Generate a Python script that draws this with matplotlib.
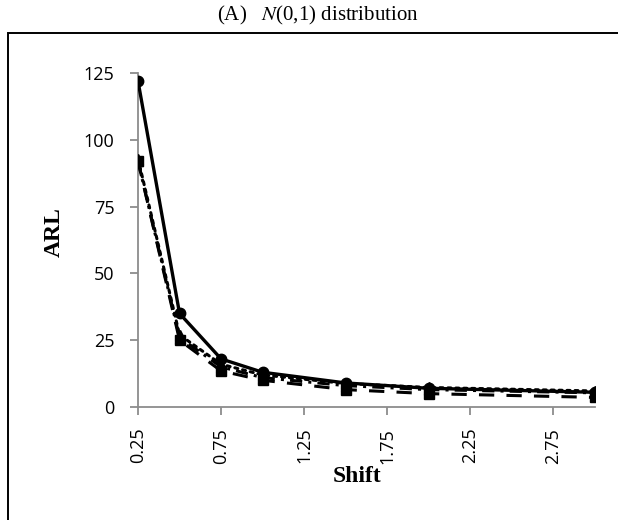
import matplotlib
matplotlib.use("Agg")
import matplotlib.pyplot as plt
from matplotlib.patches import Rectangle

# Shift sizes (x) and ARL values for each chart
shift = [0.25, 0.5, 0.75, 1.0, 1.5, 2.0, 3.0]
arl_solid = [122, 35, 18, 13, 9, 7, 5.5]
arl_dotted = [93, 27, 16, 12, 8.8, 7.3, 6.0]
arl_dashdot = [92, 26, 15, 11, 8.0, 6.5, 5.3]
arl_dashed = [92, 25, 13.5, 10, 6.5, 5.0, 3.6]

xticks = [0.25, 0.75, 1.25, 1.75, 2.25, 2.75]
yticks = [0, 25, 50, 75, 100, 125]

fig = plt.figure(figsize=(6.18, 5.2), dpi=100)
ax = fig.add_axes([138 / 618, 1 - 407 / 520, (595 - 138) / 618, (407 - 73) / 520])

ax.plot(shift, arl_dashed, color="black", lw=2.2, ls=(0, (5, 4)),
        marker="s", ms=7, zorder=3)
ax.plot(shift, arl_dashdot, color="black", lw=2.2, ls=(0, (4, 2, 1, 2)),
        marker="^", ms=7, zorder=3)
ax.plot(shift, arl_dotted, color="black", lw=2.2, ls=(0, (1, 1.6)),
        dash_capstyle="round", marker="^", ms=7, zorder=4)
ax.plot(shift, arl_solid, color="black", lw=2.4, ls="-",
        marker="o", ms=7.5, zorder=5)

ax.set_xlim(0.25, 3.0)
ax.set_ylim(0, 125)
ax.set_xticks(xticks)
ax.set_xticklabels([f"{t:.2f}" for t in xticks], rotation=90)
ax.set_yticks(yticks)

for side in ("top", "right"):
    ax.spines[side].set_visible(False)
for side in ("left", "bottom"):
    ax.spines[side].set_color("#8c8c8c")
    ax.spines[side].set_linewidth(1.3)

ax.tick_params(axis="both", direction="out", length=6, width=1.3,
               color="#8c8c8c", labelsize=13)
ax.tick_params(axis="y", pad=11)
ax.tick_params(axis="x", pad=9)
for lab in ax.get_xticklabels() + ax.get_yticklabels():
    lab.set_family("Open Sans")

ax.set_xlabel("Shift", family="Liberation Serif", fontweight="bold", fontsize=17)
ax.set_ylabel("ARL", family="Liberation Serif", fontweight="bold", fontsize=17)
ax.xaxis.set_label_coords((357 - 138) / 457, (407 - 466) / 334)
ax.yaxis.set_label_coords((65 - 138) / 457, (407 - 232) / 334)

fig.text(318 / 618, 1 - 15 / 520, r"(A)   $\mathit{N}$(0,1) distribution",
         ha="center", va="center", family="Liberation Serif", fontsize=15,
         math_fontfamily="stix")

# Frame around the plot area
fig.patches.append(Rectangle((8 / 618, -0.05), 1.0, 1 - 33 / 520 + 0.05,
                             transform=fig.transFigure, fill=False,
                             edgecolor="black", lw=1.4))

fig.savefig("out.png", dpi=100)
